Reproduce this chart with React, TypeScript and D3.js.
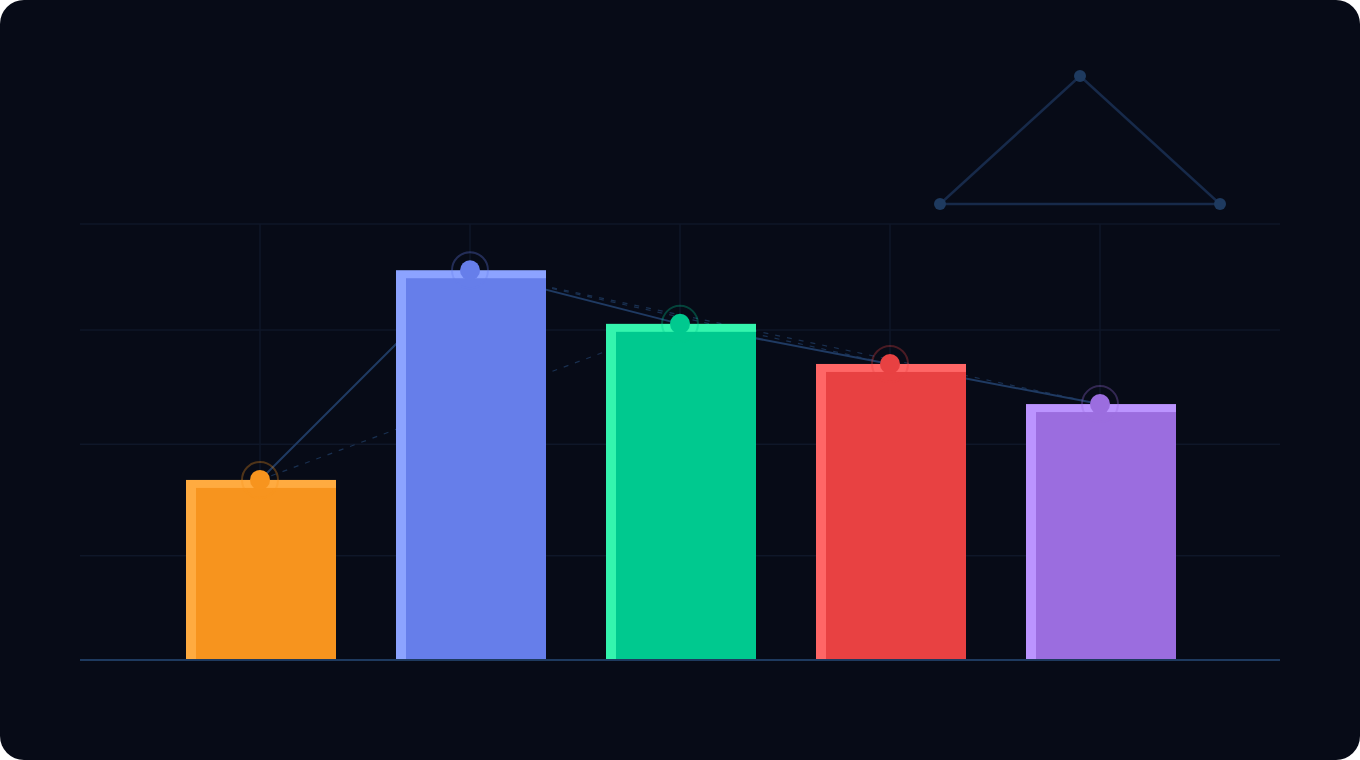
import {scaleLinear, scalePoint, line} from "d3";

const categories = ["A", "B", "C", "D", "E"];
const values = [41.3, 89.4, 77.1, 67.9, 58.7];
const gridValues = [23.9, 49.5, 75.7, 100];
// dashed "skip" links between points (index pairs)
const dashedLinks = [[0, 2], [1, 3], [1, 4]];
const mainColors = ["#f7941e", "#667eea", "#00c98f", "#e84142", "#9b6ddf"];
const lightColors = ["#ffab40", "#8ca3ff", "#34f5ae", "#ff6666", "#bb94ff"];
// decorative triangle in the top right corner
const decorTriangle: [number, number][] = [[940, 204], [1080, 76], [1220, 204]];

const W = 1360;
const H = 760;
const BAR_W = 150;

export default function App() {
    const x = scalePoint<string>().domain(categories).range([260, 1100]);
    const y = scaleLinear().domain([0, 100]).range([660, 224]);
    const pts = values.map((v, i) => [x(categories[i]) ?? 0, y(v)] as [number, number]);
    const path = line();
    const [x0, x1] = [80, 1280];

    return <svg width={W} height={H} style={{position: "absolute", left: 0, top: 0, display: "block"}}>
        <rect x={0} y={0} width={W} height={H} rx={24} fill="#070b17"/>
        {/* grid */}
        {gridValues.map(g => <line key={g} x1={x0} x2={x1} y1={y(g)} y2={y(g)} stroke="#0f1729" strokeWidth={1.5}/>)}
        {categories.map(c => <line key={c} x1={x(c)} x2={x(c)} y1={y(100)} y2={y(0)} stroke="#0f1729" strokeWidth={1.5}/>)}
        {/* decorative triangle */}
        <path d={path([...decorTriangle, decorTriangle[0]]) ?? ""} fill="none" stroke="#172a4a" strokeWidth={2.5}/>
        {decorTriangle.map((p, i) => <circle key={i} cx={p[0]} cy={p[1]} r={6} fill="#1e3a5f"/>)}
        {/* connecting lines behind the bars */}
        {dashedLinks.map(([a, b]) => <path key={`${a}-${b}`} d={path([pts[a], pts[b]]) ?? ""} fill="none"
                                           stroke="#1e3a5f" strokeOpacity={0.8} strokeWidth={1.2} strokeDasharray="5 7"/>)}
        <path d={path(pts) ?? ""} fill="none" stroke="#1f3a62" strokeWidth={2}/>
        {/* bars */}
        {values.map((v, i) => {
            const bx = (x(categories[i]) ?? 0) - BAR_W / 2 + 1;
            const top = y(v);
            return <g key={i}>
                <rect x={bx} y={top} width={BAR_W} height={y(0) - top} fill={lightColors[i]}/>
                <rect x={bx + 10} y={top + 8} width={BAR_W - 10} height={y(0) - top - 8} fill={mainColors[i]}/>
            </g>;
        })}
        <line x1={x0} x2={x1} y1={y(0)} y2={y(0)} stroke="#1e3a5f" strokeWidth={2}/>
        {/* markers */}
        {pts.map((p, i) => <g key={i}>
            <circle cx={p[0]} cy={p[1]} r={18} fill="none" stroke={mainColors[i]} strokeOpacity={0.3} strokeWidth={2}/>
            <circle cx={p[0]} cy={p[1]} r={10} fill={mainColors[i]}/>
        </g>)}
    </svg>;
}
